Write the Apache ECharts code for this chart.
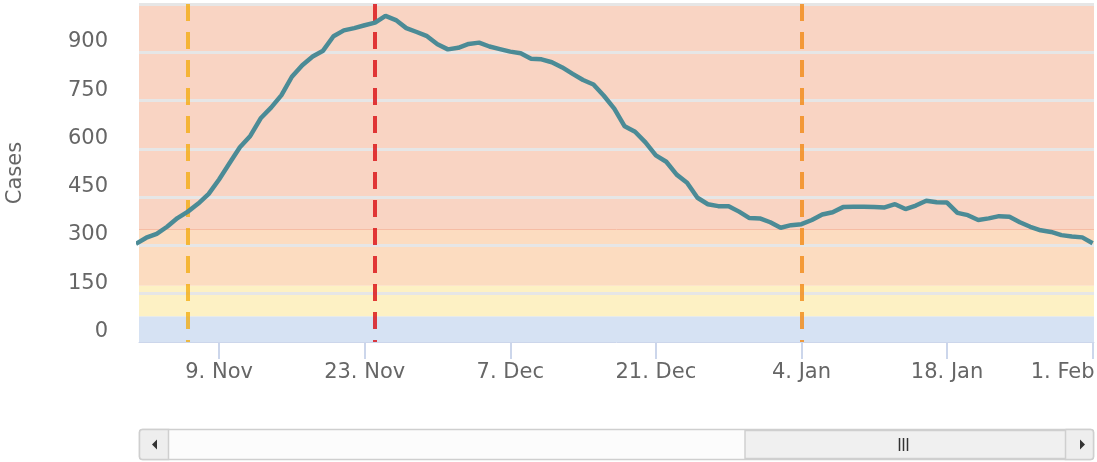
<!DOCTYPE html>
<html><head><meta charset="utf-8">
<script src="https://cdn.jsdelivr.net/npm/echarts@6/dist/echarts.min.js"></script>
<style>html,body{margin:0;padding:0;background:#fff}#c{width:1097px;height:462px}</style>
</head><body><div id="c"></div>
<script>
// ---- data ----
const dates = [
 '2020-11-01','2020-11-02','2020-11-03','2020-11-04','2020-11-05','2020-11-06','2020-11-07','2020-11-08','2020-11-09','2020-11-10',
 '2020-11-11','2020-11-12','2020-11-13','2020-11-14','2020-11-15','2020-11-16','2020-11-17','2020-11-18','2020-11-19','2020-11-20',
 '2020-11-21','2020-11-22','2020-11-23','2020-11-24','2020-11-25','2020-11-26','2020-11-27','2020-11-28','2020-11-29','2020-11-30',
 '2020-12-01','2020-12-02','2020-12-03','2020-12-04','2020-12-05','2020-12-06','2020-12-07','2020-12-08','2020-12-09','2020-12-10',
 '2020-12-11','2020-12-12','2020-12-13','2020-12-14','2020-12-15','2020-12-16','2020-12-17','2020-12-18','2020-12-19','2020-12-20',
 '2020-12-21','2020-12-22','2020-12-23','2020-12-24','2020-12-25','2020-12-26','2020-12-27','2020-12-28','2020-12-29','2020-12-30',
 '2020-12-31','2021-01-01','2021-01-02','2021-01-03','2021-01-04','2021-01-05','2021-01-06','2021-01-07','2021-01-08','2021-01-09',
 '2021-01-10','2021-01-11','2021-01-12','2021-01-13','2021-01-14','2021-01-15','2021-01-16','2021-01-17','2021-01-18','2021-01-19',
 '2021-01-20','2021-01-21','2021-01-22','2021-01-23','2021-01-24','2021-01-25','2021-01-26','2021-01-27','2021-01-28','2021-01-29',
 '2021-01-30','2021-01-31','2021-02-01'
];
const cases = [
 305,324,336,358,385,405,430,460,505,555,
 605,640,695,728,767,824,860,887,905,950,
 968,975,984,992,1013,1000,975,963,950,925,
 909,914,926,930,918,910,902,897,880,878,
 869,853,833,814,800,765,725,670,653,620,
 580,560,520,495,448,428,422,422,405,385,
 384,372,355,363,366,379,396,403,419,420,
 420,419,418,428,413,424,439,434,433,401,
 394,379,384,391,389,372,358,347,342,332,
 328,325,307
];
const tickDates = ['2020-11-09','2020-11-23','2020-12-07','2020-12-21','2021-01-04','2021-01-18','2021-02-01'];
const monthNames = ['Jan','Feb','Mar','Apr','May','Jun','Jul','Aug','Sep','Oct','Nov','Dec'];
const yMin = 0, yMax = 1050, yStep = 150;
const bandLimits = [0, 80, 175, 350, 1050];
const bandColors = ['#d6e2f3', '#fdf1c4', '#fcdcc0', '#f9d4c3'];
const plotLineDates = ['2020-11-06', '2020-11-24', '2021-01-04'];
const plotLineColors = ['rgba(243,168,0,0.72)', 'rgba(218,13,18,0.8)', 'rgba(241,139,24,0.82)'];

// ---- helpers ----
const DAY = 86400000;
const toMs = s => { const p = s.split('-').map(Number); return Date.UTC(p[0], p[1]-1, p[2]); };
const FONT = 'DejaVu Sans';
const TXT = '#666666';
const tickMs = tickDates.map(toMs);
const lastTick = tickMs[tickMs.length-1];
const fmt = v => { const d = new Date(v); return d.getUTCDate() + '. ' + monthNames[d.getUTCMonth()]; };

const lineData = dates.map((d, i) => [toMs(d), cases[i]]);
const xMin = toMs(dates[0]) + 0.3 * DAY;
const xMax = toMs(dates[dates.length-1]) + 0.13 * DAY;

const bandAreas = bandColors.map((c, i) => [
  { yAxis: bandLimits[i], itemStyle: { color: c } },
  { yAxis: bandLimits[i+1] }
]);

const plotLines = plotLineDates.map((d, i) => [
  { coord: [toMs(d), yMax], lineStyle: { color: plotLineColors[i] } },
  { coord: [toMs(d), yMin] }
]);

const chart = echarts.init(document.getElementById('c'), null, { renderer: 'canvas' });
chart.setOption({
  animation: false,
  grid: { left: 139, right: 3, top: 4, bottom: 120, containLabel: false, outerBoundsMode: 'none' },
  xAxis: {
    type: 'value', min: xMin, max: xMax, z: 3,
    axisLine: { show: true, lineStyle: { color: '#ccd6eb', width: 1 } },
    axisTick: { show: true, length: 17, lineStyle: { color: '#ccd6eb', width: 2 }, customValues: tickMs },
    axisLabel: {
      customValues: tickMs, margin: 20, fontFamily: FONT, fontSize: 21, color: TXT,
      formatter: v => (v === lastTick ? '{r|' + fmt(v) + '}' : fmt(v)),
      rich: { r: { fontFamily: FONT, fontSize: 21, color: TXT, padding: [0, 60, 0, 0] } }
    },
    splitLine: { show: false }
  },
  yAxis: {
    type: 'value', min: yMin, max: yMax, interval: yStep, z: 3,
    name: 'Cases', nameLocation: 'middle', nameGap: 113,
    nameTextStyle: { fontFamily: FONT, fontSize: 21, color: TXT },
    axisLine: { show: false }, axisTick: { show: false },
    axisLabel: { margin: 31, fontFamily: FONT, fontSize: 21, color: TXT, verticalAlign: 'bottom', lineHeight: 21, padding: [0, 0, 0, 0], showMaxLabel: false },
    splitLine: { show: true, showMinLine: false, lineStyle: { color: '#e6e6e6', width: 3 } }
  },
  series: [
    {
      type: 'line', z: 1, data: lineData, showSymbol: false, silent: true,
      lineStyle: { opacity: 0 },
      markArea: { silent: true, data: bandAreas },
      markLine: { silent: true, symbol: ['none', 'none'], label: { show: false },
        lineStyle: { color: '#f6bca4', width: 1, type: 'solid' },
        data: [{ yAxis: bandLimits[3] }] }
    },
    {
      type: 'line', z: 2, data: lineData, showSymbol: false, silent: true,
      lineStyle: { opacity: 0 },
      markLine: { silent: true, symbol: ['none', 'none'], label: { show: false },
        lineStyle: { width: 4, type: [17, 11] },
        data: plotLines }
    },
    {
      type: 'line', z: 5, data: lineData, showSymbol: false, clip: true,
      lineStyle: { color: '#4b8b96', width: 4.5 }
    }
  ],
  graphic: [
    { type: 'rect', shape: { x: 139.5, y: 429.5, width: 954, height: 30, r: 3 }, style: { fill: '#fcfcfc', stroke: '#cfcfcf', lineWidth: 1.5 } },
    { type: 'rect', shape: { x: 139.5, y: 429.5, width: 29, height: 30, r: [3, 0, 0, 3] }, style: { fill: '#eeeeee', stroke: '#cfcfcf', lineWidth: 1.5 } },
    { type: 'polygon', shape: { points: [[152, 444.5], [157, 439.5], [157, 449.5]] }, style: { fill: '#333' } },
    { type: 'rect', shape: { x: 745, y: 430.5, width: 321, height: 28 }, style: { fill: '#f0f0f0', stroke: '#cfcfcf', lineWidth: 1.5 } },
    { type: 'line', shape: { x1: 899.5, y1: 438, x2: 899.5, y2: 451 }, style: { stroke: '#333', lineWidth: 1.5 } },
    { type: 'line', shape: { x1: 903.5, y1: 438, x2: 903.5, y2: 451 }, style: { stroke: '#333', lineWidth: 1.5 } },
    { type: 'line', shape: { x1: 907.5, y1: 438, x2: 907.5, y2: 451 }, style: { stroke: '#333', lineWidth: 1.5 } },
    { type: 'rect', shape: { x: 1065.5, y: 429.5, width: 28, height: 30, r: [0, 3, 3, 0] }, style: { fill: '#eeeeee', stroke: '#cfcfcf', lineWidth: 1.5 } },
    { type: 'polygon', shape: { points: [[1085, 444.5], [1080, 439.5], [1080, 449.5]] }, style: { fill: '#333' } }
  ]
});
</script>
</body></html>
